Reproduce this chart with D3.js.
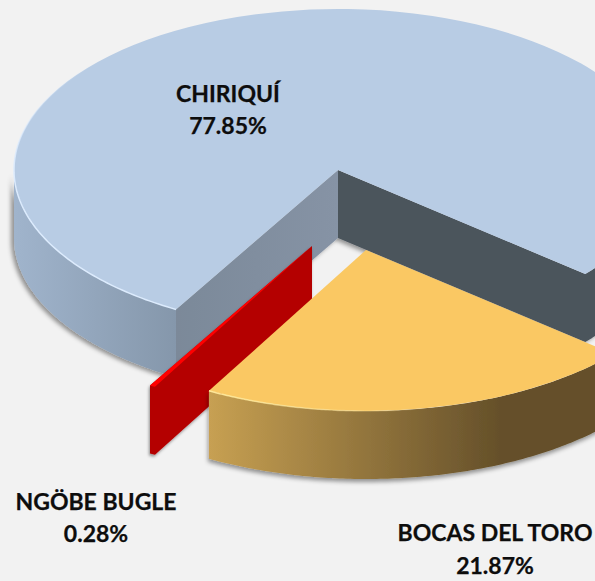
<!DOCTYPE html>
<html>
<head>
<meta charset="utf-8">
<script src="https://cdn.jsdelivr.net/npm/d3@7"></script>
<style>
  html, body { margin: 0; padding: 0; background: #f2f2f2; overflow: hidden; }
  text { font-family: Lato, "Open Sans", sans-serif; font-weight: 700; fill: #0d0d0d; stroke: #0d0d0d; stroke-width: 0.25px; }
</style>
</head>
<body>
<div id="chart"></div>
<script>
// data
var regions = ["CHIRIQUÍ", "BOCAS DEL TORO", "NGÖBE BUGLE"];
var shares = [77.85, 21.87, 0.28];

// set the dimensions of the graph
var width = 595, height = 581;
var rx = 324, ry = 161, depth = 68;

var svg = d3.select("#chart")
  .append("svg")
    .attr("width", width)
    .attr("height", height)
    .style("display", "block");

var defs = svg.append("defs");

// soft shadow below the walls
function addShadow(id, dx, dy, blur, opacity) {
  var f = defs.append("filter").attr("id", id)
    .attr("x", "-10%").attr("y", "-10%").attr("width", "120%").attr("height", "120%");
  f.append("feDropShadow")
    .attr("dx", dx).attr("dy", dy).attr("stdDeviation", blur)
    .attr("flood-color", "#000").attr("flood-opacity", opacity);
  return "url(#" + id + ")";
}

function gradient(id, x1, y1, x2, y2, stops) {
  var g = defs.append("linearGradient").attr("id", id)
    .attr("gradientUnits", "userSpaceOnUse")
    .attr("x1", x1).attr("x2", x2).attr("y1", y1).attr("y2", y2);
  stops.forEach(function(s) {
    g.append("stop").attr("offset", s[0]).attr("stop-color", s[1]).attr("stop-opacity", s[2]);
  });
  return "url(#" + id + ")";
}

// one pie laid flat, angles go clockwise from the top
var pie = d3.pie().sort(null).startAngle(210 * Math.PI / 180).endAngle(570 * Math.PI / 180);
var arcs = pie(shares);

var styles = [
  { cx: 338, cy: 170, top: "#b8cce4",
    shadow: addShadow("shadowA", -3, 2, 2, 0.4),
    rim: gradient("rimA", 0, 60, 0, 170, [[0, "#dcebfd", 0], [1, "#dcebfd", 1]]),
    wall: gradient("wallA", 14, 0, 176, 0, [[0, "#a0b4cc", 1], [1, "#8597ab", 1]]),
    wall2: "#4b545c",
    cut: gradient("cutA", 176, 0, 338, 0, [[0, "#7b8999", 1], [1, "#8693a5", 1]]) },
  { cx: 366, cy: 250, top: "#fac863",
    shadow: addShadow("shadowB", -1, 3, 2, 0.4),
    rim: gradient("rimB", 209, 0, 430, 0, [[0, "#ffe99a", 1], [1, "#ffe99a", 0]]),
    wall: gradient("wallB", 209, 0, 500, 0, [[0, "#c7a052", 1], [1, "#65502a", 1]]) },
  { cx: 312, cy: 246, top: "#ff0000",
    shadow: addShadow("shadowC", -1, 2, 1.5, 0.4),
    wall: "#b40000" }
];

var scaleX = d3.scaleLinear().domain([-1, 1]).range([-rx, rx]);
var scaleY = d3.scaleLinear().domain([-1, 1]).range([-ry, ry]);

function px(s, a) { return s.cx + scaleX(Math.sin(a)); }
function py(s, a, z) { return s.cy + scaleY(-Math.cos(a)) + z; }

function arcPoints(s, a0, a1, z) {
  return d3.range(0, 121).map(function(i) {
    var a = a0 + (a1 - a0) * i / 120;
    return [px(s, a), py(s, a, z)];
  });
}
var line = d3.line();

function drawTop(g, d, s) {
  var topArc = d3.arc().innerRadius(0).outerRadius(rx).startAngle(d.startAngle).endAngle(d.endAngle);
  g.append("path")
    .attr("transform", "translate(" + s.cx + "," + s.cy + ") scale(1," + (ry / rx) + ")")
    .attr("d", topArc())
    .attr("fill", s.top);
}

function drawRim(g, s, a0, a1) {
  g.append("path")
    .attr("d", line(arcPoints(s, a0, a1, 0)))
    .attr("fill", "none")
    .attr("stroke", s.rim)
    .attr("stroke-width", 1.5);
}

// main piece, wraps round so its front runs from the start angle to the left edge
function drawMain(d, s) {
  var g = svg.append("g");
  var a0 = d.startAngle, a1 = d.endAngle;
  var walls = g.append("g").attr("filter", s.shadow);
  walls.append("path")
    .attr("d", line(arcPoints(s, a0, 3 * Math.PI / 2, 0)
      .concat(arcPoints(s, a0, 3 * Math.PI / 2, depth).reverse())) + "Z")
    .attr("fill", s.wall);
  // dark cut face and the bit of outer wall behind it, one shape
  walls.append("path")
    .attr("d", line([[s.cx, s.cy]]
      .concat(arcPoints(s, a1, a1 - 0.5, 0))
      .concat(arcPoints(s, a1 - 0.5, a1, depth))
      .concat([[s.cx, s.cy + depth]])) + "Z")
    .attr("fill", s.wall2);
  walls.append("path")
    .attr("d", line([[s.cx, s.cy], [px(s, a0), py(s, a0, 0)],
      [px(s, a0), py(s, a0, depth)], [s.cx, s.cy + depth]]) + "Z")
    .attr("fill", s.cut);
  drawTop(g, d, s);
  drawRim(g, s, a0, a0 + 1.9);
}

// the sliver shows only its cut face
function drawSliver(d, s) {
  var g = svg.append("g");
  var a0 = d.startAngle, a1 = d.endAngle;
  g.append("path")
    .attr("filter", s.shadow)
    .attr("d", line([[s.cx, s.cy], [px(s, a1), py(s, a1, 0)],
      [px(s, a1), py(s, a1, depth)],
      [px(s, a0), py(s, a0, depth)], [s.cx, s.cy + depth]]) + "Z")
    .attr("fill", s.wall);
  drawTop(g, d, s);
}

function drawBocas(d, s) {
  var g = svg.append("g");
  var a0 = d.startAngle, a1 = d.endAngle;
  g.append("path")
    .attr("filter", s.shadow)
    .attr("d", line(arcPoints(s, a0, a1, 0)
      .concat(arcPoints(s, a0, a1, depth).reverse())) + "Z")
    .attr("fill", s.wall);
  drawTop(g, d, s);
  drawRim(g, s, a1, a1 - 0.75);
}

// red sliver goes between the main piece and the orange one
drawMain(arcs[0], styles[0]);
drawSliver(arcs[2], styles[2]);
drawBocas(arcs[1], styles[1]);

// labels
var labelPos = [[228, 102, 134], [495, 541, 574], [96, 510, 542]];
regions.forEach(function(name, i) {
  var t = svg.append("g").attr("text-anchor", "middle").style("font-size", "23px");
  t.append("text").attr("x", labelPos[i][0]).attr("y", labelPos[i][1]).text(name);
  t.append("text").attr("x", labelPos[i][0]).attr("y", labelPos[i][2]).text(shares[i].toFixed(2) + "%");
});
</script>
</body>
</html>
